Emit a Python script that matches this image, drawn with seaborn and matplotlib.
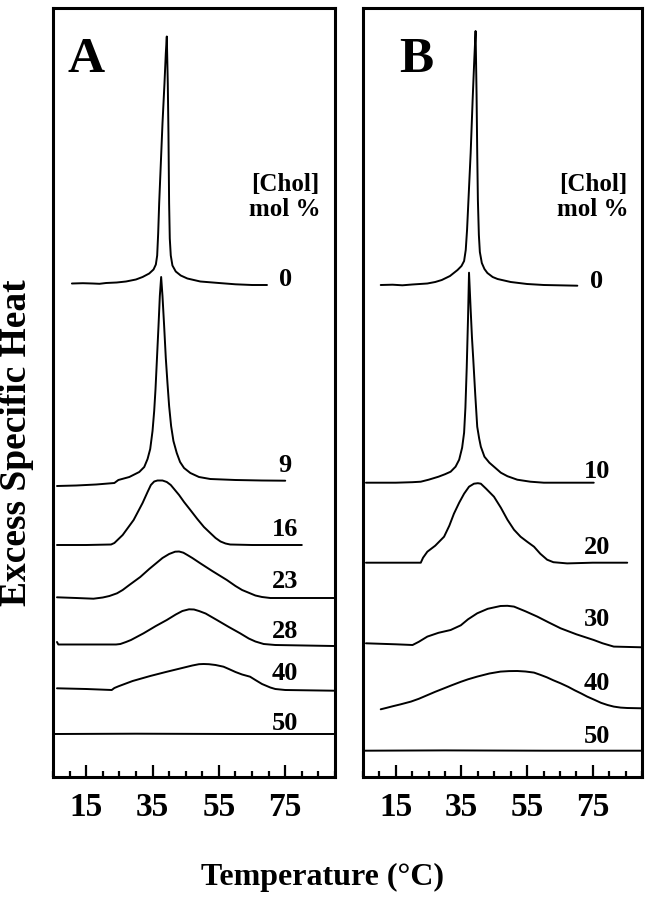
import matplotlib
matplotlib.use("Agg")
import matplotlib.pyplot as plt
import seaborn as sns
from matplotlib.ticker import FixedLocator, MultipleLocator

# Panel A: cholesterol levels (mol %), curve offsets for the stacked plot
a_chol = ['0', '9', '16', '23', '28', '40', '50']
a_offsets = [493.5, 291, 232, 179, 132, 88, 43]

a0_temp = [10.7, 14.0, 17.0, 19.0, 21.0, 24.2, 27.0, 30.0, 32.0, 34.0, 35.3, 36.0, 36.4, 36.7, 37.0, 37.5, 38.0, 38.6, 39.0, 39.3,
           39.6, 39.8, 40.0, 40.2, 40.5, 41.0, 42.0, 43.5, 45.5, 49.4, 55.0, 60.0, 65.0, 69.5]
a0_cp = [0, 0.3, 0, -0.3, 0.5, 1, 2, 4, 6.5, 10, 14, 19, 28, 50, 80, 120, 160, 200, 230, 247,
         200, 150, 80, 45, 28, 18, 12, 8, 5, 2, 0.5, -0.8, -1.5, -1.5]

a9_temp = [6.2, 12.0, 18.0, 23.5, 24.7, 28.0, 31.0, 32.5, 33.5, 34.3, 35.0, 35.5, 35.9, 36.3, 36.8, 37.2, 37.6, 38.0, 38.5, 39.0,
           39.5, 40.0, 40.6, 41.3, 42.3, 43.3, 44.5, 46.4, 49.0, 52.4, 60.0, 68.0, 75.0]
a9_cp = [0, 0.5, 1.5, 3, 6, 9, 14, 19, 27, 37, 55, 75, 97, 125, 160, 190, 209, 190, 160, 128,
         103, 80, 60, 45, 33, 24, 18, 13, 9, 7, 6, 5.5, 5.3]

a16_temp = [6.2, 15.0, 22.5, 23.5, 26.0, 29.3, 32.0, 33.5, 34.5, 35.5, 36.5, 38.0, 39.3, 40.5, 41.5, 43.0, 44.5, 46.4, 48.5, 50.5,
            52.4, 54.0, 55.5, 57.0, 58.4, 65.0, 80.0]
a16_cp = [0, 0, 0.5, 2, 10, 25, 42, 53, 60, 63.5, 64.5, 64.5, 63, 60, 56, 50, 43, 35, 26, 18,
          12, 7, 3.5, 1.5, 0.5, 0, 0]

a23_temp = [6.2, 12.0, 17.2, 20.0, 22.0, 24.3, 26.0, 28.0, 31.3, 34.0, 36.0, 38.0, 40.0, 41.8, 43.0, 44.3, 45.5, 47.0, 49.4, 53.0,
            57.4, 60.0, 62.0, 64.4, 66.0, 68.0, 70.5, 80.0, 89.6]
a23_cp = [0.7, 0, -0.7, 0.5, 2, 4.7, 8, 13, 21, 29, 34.5, 40, 44, 46.3, 46.5, 45.3, 43, 40, 34.7, 27,
          18, 12, 8, 4.7, 2.5, 1, 0, 0, 0]

a28_temp = [6.2, 6.6, 15.0, 24.0, 25.3, 27.0, 28.5, 32.3, 36.0, 39.3, 42.0, 44.0, 46.0, 47.5, 49.0, 51.0, 54.4, 58.0, 61.4, 64.0,
            66.0, 68.5, 72.0, 89.6]
a28_cp = [3, 0.5, 0.5, 0.5, 1, 3, 5, 11.7, 19, 25, 30.5, 34, 35.7, 35.5, 34, 31.5, 25, 18, 11.7, 6.5,
          3.5, 1, 0, -1]

a40_temp = [6.2, 15.0, 22.7, 23.5, 24.8, 29.0, 34.3, 39.0, 44.3, 47.0, 49.0, 50.4, 52.0, 54.0, 56.4, 58.0, 60.0, 62.0, 64.4, 66.0,
            68.0, 70.5, 72.0, 75.0, 89.6]
a40_cp = [0.7, 0, -1, 1, 2.8, 8, 13, 17, 21.3, 23.5, 24.8, 25, 24.8, 24, 22.3, 20, 17, 14.5, 12.3, 9,
          5, 1.5, 0, -1, -1.7]

a50_temp = [5.2, 30.0, 60.0, 89.6]
a50_cp = [0, 0.3, 0, 0]

# Panel B
b_chol = ['0', '10', '20', '30', '40', '50']
b_offsets = [492, 294.3, 214.3, 133.7, 67.7, 26.3]

b0_temp = [10.4, 14.0, 17.0, 20.0, 24.6, 27.0, 29.0, 31.5, 33.8, 35.0, 35.8, 36.3, 36.7, 37.2, 37.8, 38.4, 38.9, 39.3, 39.6, 39.8,
           40.0, 40.3, 40.6, 41.2, 42.0, 42.9, 44.5, 46.0, 50.0, 55.0, 60.1, 70.3]
b0_cp = [0, 0.3, -0.3, 0.5, 1.5, 3, 5, 9, 15, 19, 24, 35, 55, 90, 132, 185, 225, 254, 190, 132,
         85, 50, 33, 22, 16, 12, 8, 6, 3, 1, 0, -0.7]

b10_temp = [5.9, 15.0, 20.0, 22.6, 25.0, 28.0, 30.0, 31.7, 33.2, 34.3, 35.2, 35.8, 36.2, 36.6, 37.0, 37.3, 37.8, 38.2, 38.6, 39.2,
            39.8, 40.4, 40.9, 42.0, 43.5, 44.9, 47.0, 49.0, 52.0, 56.0, 60.1, 75.3]
b10_cp = [0, 0, 0.5, 1, 3, 6, 8.5, 11, 16, 23, 35, 50, 75, 115, 165, 210, 173, 145, 123, 88,
          56, 44, 36, 26, 20, 16, 10, 6.5, 3, 1, 0, 0]

b20_temp = [5.9, 15.0, 22.6, 23.3, 24.6, 27.0, 29.7, 31.3, 32.7, 34.3, 35.8, 37.3, 38.8, 40.0, 40.9, 42.5, 44.9, 47.0, 49.0, 51.0,
            53.0, 55.0, 57.1, 59.0, 61.1, 63.0, 67.2, 75.0, 85.5]
b20_cp = [0, 0, 0, 5, 11, 17, 26, 37, 49, 60, 69, 76, 79, 79.5, 79, 74, 66, 55, 43, 33,
          26, 21, 16, 9, 3, 0.5, -0.7, 0, 0]

b30_temp = [5.9, 15.0, 20.1, 22.0, 24.6, 28.0, 31.7, 34.8, 37.0, 39.8, 43.0, 46.9, 49.0, 51.0, 54.5, 58.1, 61.5, 65.2, 70.0, 75.3,
            78.0, 81.4, 90.0]
b30_cp = [0, -1, -1.7, 1.5, 6.7, 10.5, 13.3, 18, 24, 30, 34.5, 37.3, 37.5, 36.7, 32, 26.7, 21, 15, 9, 3.3,
          0, -3.3, -4]

b40_temp = [10.4, 12.0, 14.0, 16.5, 19.6, 22.0, 24.5, 27.0, 29.7, 32.0, 34.8, 37.0, 39.8, 43.5, 46.9, 49.5, 52.0, 54.5, 57.1, 59.0,
            61.0, 63.0, 65.2, 67.5, 69.5, 71.5, 73.3, 75.5, 77.5, 79.5, 81.4, 83.5, 85.5, 90.0]
b40_cp = [0, 1.3, 3, 5, 7.7, 10.5, 14, 17.5, 21, 24, 27.5, 30, 32.7, 35.8, 37.7, 38.2, 38.3, 37.8, 36.7, 34.5,
          32, 29, 26, 22.5, 19, 15.8, 12.7, 9.5, 6.5, 4.3, 2.7, 1.7, 1.3, 1]

b50_temp = [5.2, 30.0, 60.0, 90.0]
b50_cp = [0, 0.3, 0, 0]

major_ticks = [15, 35, 55, 75]

sns.set_style("ticks")
plt.rcParams['font.family'] = ['Liberation Serif', 'DejaVu Serif']
plt.rcParams['font.weight'] = 'bold'
plt.rcParams['text.color'] = 'black'
plt.rcParams['xtick.color'] = 'black'
plt.rcParams['axes.edgecolor'] = 'black'

fig = plt.figure(figsize=(6.49, 8.99), dpi=100)
ax_a = fig.add_axes([53 / 649, 1 - 777 / 899, 282 / 649, 769 / 899])
ax_b = fig.add_axes([363 / 649, 1 - 777 / 899, 279 / 649, 769 / 899])

panels = [
    (ax_a, 'A', a_chol, a_offsets,
     [(a0_temp, a0_cp), (a9_temp, a9_cp), (a16_temp, a16_cp), (a23_temp, a23_cp),
      (a28_temp, a28_cp), (a40_temp, a40_cp), (a50_temp, a50_cp)],
     [3.5, 21, 15, 16, 14, 16, 11], 75.0, 0.117),
    (ax_b, 'B', b_chol, b_offsets,
     [(b0_temp, b0_cp), (b10_temp, b10_cp), (b20_temp, b20_cp), (b30_temp, b30_cp),
      (b40_temp, b40_cp), (b50_temp, b50_cp)],
     [3.3, 11, 15.4, 23.3, 26, 14], 76.3, 0.19),
]

for ax, letter, chol, offsets, curves, lifts, label_x, letter_x in panels:
    for (temp, cp), off in zip(curves, offsets):
        sns.lineplot(x=temp, y=[v + off for v in cp], ax=ax, color='black',
                     linewidth=1.4, sort=False, estimator=None)
    for name, off, lift in zip(chol, offsets, lifts):
        ax.text(label_x, off + lift, name, ha='center', va='center',
                fontsize=19, fontweight='bold')
    ax.text(75.0, 580, '[Chol]\nmol %', ha='center', va='center',
            fontsize=18, fontweight='bold', linespacing=1.15)
    ax.text(letter_x, 0.932, letter, transform=ax.transAxes, ha='center',
            va='center', fontsize=37, fontweight='bold')

    ax.set_xlim(5, 90)
    ax.set_ylim(0, 769)
    ax.xaxis.set_major_locator(FixedLocator(major_ticks))
    ax.xaxis.set_minor_locator(MultipleLocator(5))
    ax.set_yticks([])
    ax.tick_params(axis='x', which='major', direction='in', length=9,
                   width=1.6, labelsize=24, pad=11, top=False)
    ax.tick_params(axis='x', which='minor', direction='in', length=4.5,
                   width=1.6, top=False)
    for lab in ax.get_xticklabels():
        lab.set_fontweight('bold')
    for side in ['top', 'bottom', 'left', 'right']:
        ax.spines[side].set_visible(True)
        ax.spines[side].set_linewidth(2.2)
    ax.set_xlabel('')
    ax.set_ylabel('')

fig.text(0.497, 0.0245, 'Temperature (°C)', ha='center', va='center',
         fontsize=23, fontweight='bold')
fig.text(0.025, 0.508, 'Excess Specific Heat', ha='center', va='center',
         rotation=90, fontsize=27, fontweight='bold')

fig.savefig('out.png', dpi=100)
